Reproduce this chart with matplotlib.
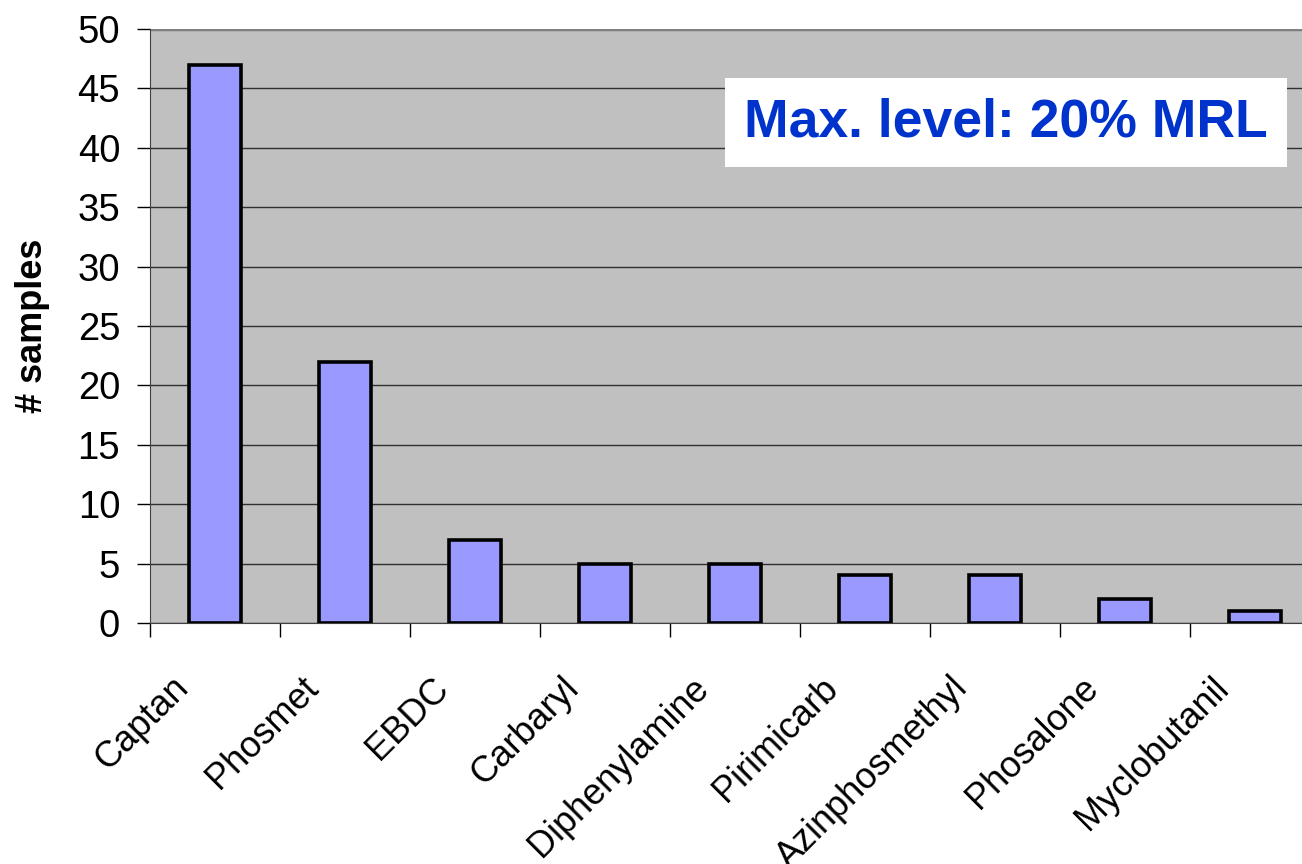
import matplotlib.pyplot as plt
import matplotlib.transforms as mtransforms
import numpy as np

plt.rcParams["font.family"] = ["Liberation Sans", "DejaVu Sans"]

pesticides = ["Captan", "Phosmet", "EBDC", "Carbaryl", "Diphenylamine",
              "Pirimicarb", "Azinphosmethyl", "Phosalone", "Myclobutanil"]
n_samples = [47, 22, 7, 5, 5, 4, 4, 2, 1]

fig = plt.figure(figsize=(13.02, 8.64), dpi=100)
# the plot area runs a little past the right edge, as in the original slide crop
ax = fig.add_axes([150 / 1302, 1 - 623 / 864, 1170 / 1302, 594 / 864])
ax.set_facecolor("#C0C0C0")

x = np.arange(len(pesticides))
ax.bar(x, n_samples, width=0.4, color="#9999FF", edgecolor="black",
       linewidth=2.6, zorder=3)

ax.set_xlim(-0.5, len(pesticides) - 0.5)
ax.set_ylim(0, 50)
ax.set_yticks(range(0, 51, 5))
ax.yaxis.grid(True, color="#303030", linewidth=1.0, zorder=0)
ax.tick_params(axis="y", labelsize=27.5, length=9.5, width=1, direction="out",
               pad=12)

# category labels sit under the bars, ticks mark the category boundaries
ax.set_xticks(x)
ax.set_xticklabels(pesticides, rotation=45, ha="right", va="center",
                   rotation_mode="anchor", fontsize=26)
ax.tick_params(axis="x", which="major", length=0, pad=43)
shift = mtransforms.ScaledTranslation(-32 / 100, 0, fig.dpi_scale_trans)
for lab in ax.get_xticklabels():
    lab.set_transform(lab.get_transform() + shift)
ax.set_xticks(np.arange(len(pesticides) + 1) - 0.5, minor=True)
ax.tick_params(axis="x", which="minor", length=10, width=1)

for side in ["top", "right"]:
    ax.spines[side].set_visible(False)
ax.spines["left"].set_color("#404040")
ax.spines["bottom"].set_color("#404040")
ax.axhline(50, color="#808080", linewidth=2.5, zorder=2)

ax.set_ylabel("# samples", fontsize=26, fontweight="bold", labelpad=20)

ax.text(0.9556, 0.8426, "Max. level: 20% MRL", transform=ax.transAxes,
        ha="right", va="center", fontsize=38.5, fontweight="bold",
        color="#0033CC", zorder=5,
        bbox=dict(boxstyle="square,pad=0.36", facecolor="white",
                  edgecolor="none"))

fig.savefig("out.png", dpi=100)
